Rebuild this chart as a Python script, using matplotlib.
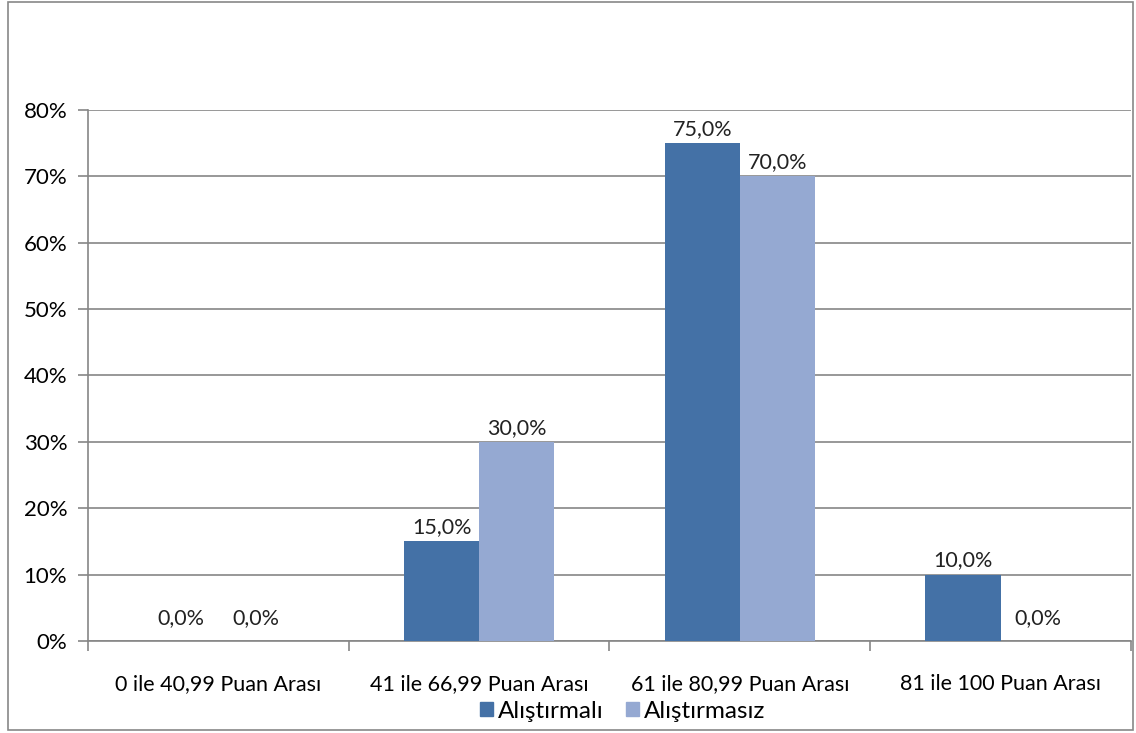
import matplotlib.pyplot as plt
import numpy as np
from matplotlib.patches import Patch, Rectangle

plt.rcParams['font.family'] = ['Lato', 'DejaVu Sans']

kategoriler = ['0 ile 40,99 Puan Arası', '41 ile 66,99 Puan Arası',
               '61 ile 80,99 Puan Arası', '81 ile 100 Puan Arası']
alistirmali = [0.0, 15.0, 75.0, 10.0]
alistirmasiz = [0.0, 30.0, 70.0, 0.0]
seriler = ['Alıştırmalı', 'Alıştırmasız']
renkler = ['#4471A6', '#95A9D2']

fig = plt.figure(figsize=(11.36, 7.33), dpi=100)
ax = fig.add_axes([0.0775, 0.1255, 0.918, 0.7245])

x = np.arange(len(kategoriler))
w = 0.288
b1 = ax.bar(x - w / 2, alistirmali, w, color=renkler[0], zorder=3)
b2 = ax.bar(x + w / 2, alistirmasiz, w, color=renkler[1], zorder=3)

for bars, vals in ((b1, alistirmali), (b2, alistirmasiz)):
    for bar, v in zip(bars, vals):
        off = 9 if v == 0 else 3
        ax.annotate(('%.1f%%' % v).replace('.', ','),
                    (bar.get_x() + bar.get_width() / 2, v),
                    xytext=(0, off), textcoords='offset points',
                    ha='center', va='bottom', fontsize=15.5, color='#222222')

ax.set_ylim(0, 80)
ax.set_xlim(-0.5, 3.5)
ax.set_yticks(range(0, 81, 10))
ax.set_yticklabels(['%d%%' % t for t in range(0, 81, 10)], fontsize=16)
ax.yaxis.grid(True, color='#868686', linewidth=1.2, zorder=0)

# category labels centred, tick marks on the category borders
ax.set_xticks(x)
ax.set_xticklabels(kategoriler, fontsize=15.5)
ax.tick_params(axis='x', length=0, pad=24)
ax.set_xticks(np.arange(-0.5, 4, 1), minor=True)
ax.tick_params(axis='x', which='minor', length=7, color='#868686', width=1.2)
ax.tick_params(axis='y', length=7, color='#868686', width=1.2, pad=8)

for s in ('top', 'right'):
    ax.spines[s].set_visible(False)
for s in ('left', 'bottom'):
    ax.spines[s].set_color('#868686')
    ax.spines[s].set_linewidth(1.2)

handles = [Patch(color=renkler[0]), Patch(color=renkler[1])]
fig.legend(handles, seriler, loc='center', bbox_to_anchor=(0.548, 0.030),
           ncol=2, frameon=False, fontsize=17.5, handlelength=0.55,
           handleheight=0.55, handletextpad=0.2, columnspacing=0.9)

fig.patches.append(Rectangle((0.007, 0.004), 0.99, 0.993, transform=fig.transFigure,
                             fill=False, edgecolor='#888888', linewidth=1.2))

fig.savefig('out.png', dpi=100)
